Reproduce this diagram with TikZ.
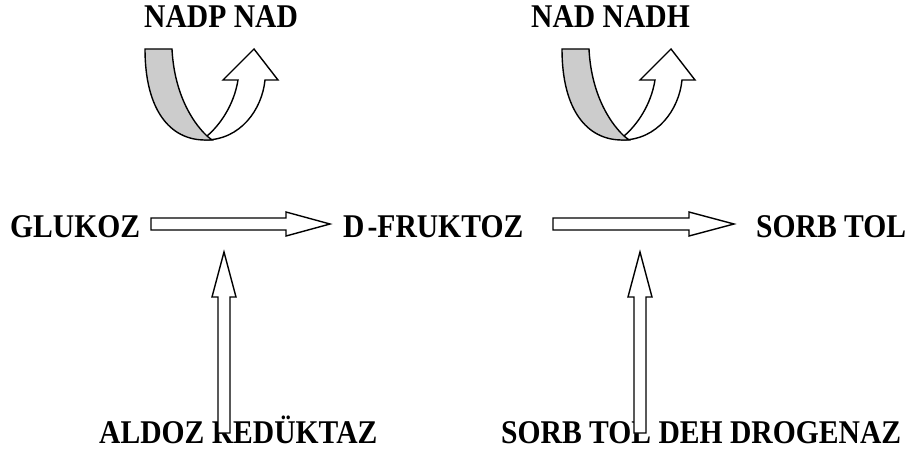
\documentclass[tikz,border=0pt]{standalone}
\usepackage{fontspec}
\usepackage{graphicx}
\setmainfont{Liberation Serif}
\definecolor{bandgrey}{RGB}{204,204,204}
\newcommand{\tallt}[1]{\scalebox{1}[1.12]{#1}}
\tikzset{
  lbl/.style={inner sep=0pt, anchor=base west, font=\fontsize{29.6pt}{30pt}\selectfont\bfseries},
  blockarrow/.style={draw=black, fill=white, line width=1.4pt, line join=miter},
  band/.style={draw=black, fill=bandgrey, line width=1.4pt},
  uarrow/.style={draw=black, fill=white, line width=1.4pt, line join=miter}
}
\begin{document}
\begin{tikzpicture}[x=1pt, y=-1pt]
\useasboundingbox (0,0) rectangle (916,452);
% texts
\node[lbl] (nadp) at (144,28) {\tallt{NADP NAD}};
\node[lbl] (nadh) at (531,28) {\tallt{NAD NADH}};
\node[lbl] (glu) at (10,237) {\tallt{GLUKOZ}};
\node[lbl] (fru) at (343,237) {\tallt{D\kern3pt-FRUKTOZ}};
\node[lbl] (sor) at (756,237) {\tallt{SORB TOL}};
\node[lbl] (ald) at (99,443) {\tallt{ALDOZ REDÜKTAZ}};
\node[lbl] (sdh) at (501,443) {\tallt{SORB TOL DEH DROGENAZ}};
% horizontal block arrows
\draw[blockarrow] (151,218) -- (286,218) -- (286,212) -- (330,224) -- (286,236) -- (286,230) -- (151,230) -- cycle;
\draw[blockarrow] (553,218) -- (689,218) -- (689,212) -- (734,224) -- (689,236) -- (689,230) -- (553,230) -- cycle;
% vertical block arrows
\draw[blockarrow] (218,433) -- (218,297) -- (212,297) -- (224,252) -- (236,297) -- (230,297) -- (230,433) -- cycle;
\draw[blockarrow] (634,433) -- (634,297) -- (628,297) -- (640,252) -- (652,297) -- (646,297) -- (646,433) -- cycle;
% U-turn arrows
\foreach \dx in {0,417}{
\begin{scope}[xshift=\dx]
\draw[uarrow] (205,140) .. controls (240,140) and (262,110) .. (265,80)
  -- (278,80) -- (254,49) -- (223,80) -- (238,80)
  .. controls (234,105) and (220,125) .. (207,136) -- cycle;
\draw[band] (145,49) -- (172,49) .. controls (174,90) and (190,120) .. (207,136)
  -- (212,140) -- (205,140) .. controls (170,140) and (145,110) .. (145,49) -- cycle;
\end{scope}}
\end{tikzpicture}
\end{document}
